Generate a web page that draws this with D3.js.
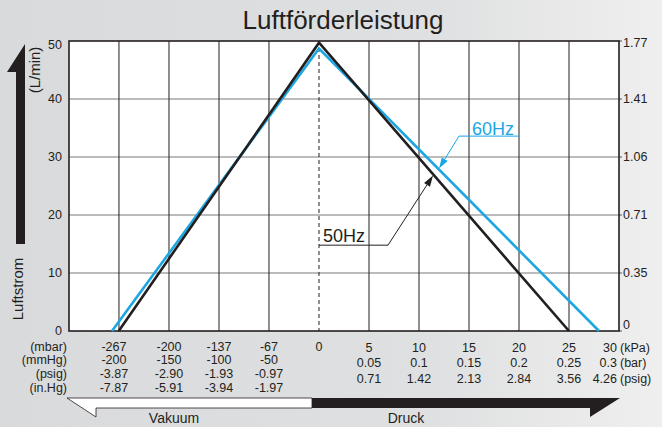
<!DOCTYPE html>
<html>
<head>
  <meta charset="utf-8">
  <title>Luftförderleistung</title>
  <script src="https://d3js.org/d3.v7.min.js"></script>
  <style>
    body { margin: 0; }
    svg text { font-family: "Liberation Sans", Arial, Helvetica, sans-serif; fill: #231f20; }
  </style>
</head>
<body>
  <div id="chart"></div>
  <script>
    // flow curves, x in mbar (negative = vacuum), y in L/min
    const hz50 = [[-267, 0], [0, 49.7], [250, 0]];
    const hz60 = [[-276, 0], [0, 48.7], [280, 0]];

    // vacuum side columns (mbar position + labels for each unit)
    const vacPos = [-266.7, -200, -133.3, -66.7];
    const vacMbar = ["-267", "-200", "-137", "-67"];
    const vacMmHg = ["-200", "-150", "-100", "-50"];
    const vacPsig = ["-3.87", "-2.90", "-1.93", "-0.97"];
    const vacInHg = ["-7.87", "-5.91", "-3.94", "-1.97"];

    // pressure side columns
    const presKPa = [5, 10, 15, 20, 25, 30];
    const presBar = ["0.05", "0.1", "0.15", "0.2", "0.25", "0.3"];
    const presPsig = ["0.71", "1.42", "2.13", "2.84", "3.56", "4.26"];

    // y ticks, left in L/min and right in the second unit
    const yTicks = [0, 10, 20, 30, 40, 50];
    const yRight = ["0", "0.35", "0.71", "1.06", "1.41", "1.77"];

    const W = 662, H = 427;
    const pL = 69, pR = 619, pT = 41, pB = 331;

    const svg = d3.select("#chart").append("svg")
      .attr("width", W).attr("height", H);

    // background
    const grad = svg.append("defs").append("linearGradient")
      .attr("id", "bg").attr("x1", "0%").attr("x2", "100%");
    grad.append("stop").attr("offset", "0%").attr("stop-color", "#d9dadc");
    grad.append("stop").attr("offset", "65%").attr("stop-color", "#dfe0e1");
    grad.append("stop").attr("offset", "100%").attr("stop-color", "#efefef");
    svg.append("rect").attr("width", W).attr("height", H).attr("fill", "url(#bg)");

    // piecewise x: vacuum side 50mmHg per column, pressure side 5 kPa per column
    const x = d3.scaleLinear().domain([-333.3, 0, 300]).range([pL, 319, pR]);
    const y = d3.scaleLinear().domain([0, 50]).range([pB, pT]);

    svg.append("rect")
      .attr("x", pL).attr("y", pT)
      .attr("width", pR - pL).attr("height", pB - pT)
      .attr("fill", "#fff");

    // horizontal grid
    svg.selectAll(".hgrid").data(yTicks.slice(1, 5)).enter().append("line")
      .attr("x1", pL).attr("x2", pR)
      .attr("y1", d => y(d)).attr("y2", d => y(d))
      .attr("stroke", "#7a7a7a").attr("stroke-width", 1.2);

    // vertical grid
    const vGrid = vacPos.concat(presKPa.slice(0, 5).map(d => d * 10));
    svg.selectAll(".vgrid").data(vGrid).enter().append("line")
      .attr("x1", d => x(d)).attr("x2", d => x(d))
      .attr("y1", pT).attr("y2", pB)
      .attr("stroke", "#231f20").attr("stroke-width", 1);

    svg.append("line")
      .attr("x1", x(0)).attr("x2", x(0)).attr("y1", pT).attr("y2", pB)
      .attr("stroke", "#231f20").attr("stroke-width", 1)
      .attr("stroke-dasharray", "4,3");

    // right ticks
    svg.selectAll(".rtick").data(yTicks).enter().append("line")
      .attr("x1", pR).attr("x2", pR + 3)
      .attr("y1", d => y(d)).attr("y2", d => y(d))
      .attr("stroke", "#555").attr("stroke-width", 1);

    // frame
    svg.append("rect")
      .attr("x", pL).attr("y", pT)
      .attr("width", pR - pL).attr("height", pB - pT)
      .attr("fill", "none").attr("stroke", "#231f20").attr("stroke-width", 1.6);

    // curves
    const line = d3.line().x(d => x(d[0])).y(d => y(d[1]));
    svg.append("path").datum(hz60).attr("d", line)
      .attr("fill", "none").attr("stroke", "#1ca6e2").attr("stroke-width", 2.6);
    svg.append("path").datum(hz50).attr("d", line)
      .attr("fill", "none").attr("stroke", "#231f20").attr("stroke-width", 2.6);

    // y labels
    svg.selectAll(".yl").data(yTicks).enter().append("text")
      .attr("x", 62).attr("y", d => y(d) + (d === 50 ? 4 : 0))
      .attr("dy", "0.35em").attr("text-anchor", "end")
      .style("font-size", "12.5px").text(d => d);
    svg.selectAll(".yr").data(yRight).enter().append("text")
      .attr("x", 623).attr("y", (d, i) => y(yTicks[i]) + (i === 5 ? 2 : 0) + (i === 0 ? -6 : 0))
      .attr("dy", "0.35em")
      .style("font-size", "12.5px").text(d => d);

    // axis titles
    svg.append("text").attr("transform", "translate(40,70) rotate(-90)")
      .attr("text-anchor", "middle").style("font-size", "15px").text("(L/min)");
    svg.append("text").attr("transform", "translate(23,289) rotate(-90)")
      .attr("text-anchor", "middle").style("font-size", "15px").text("Luftstrom");

    // big up arrow
    svg.append("path").attr("d", "M25,44 L7,72 L16,72 L16,244 L25,244 Z").attr("fill", "#231f20");

    // title
    svg.append("text").attr("x", 343).attr("y", 29).attr("text-anchor", "middle")
      .style("font-size", "26px").text("Luftförderleistung");

    // vacuum rows
    const rowL = [350.5, 364, 377.5, 391.5];
    [vacMbar, vacMmHg, vacPsig, vacInHg].forEach((row, r) => {
      svg.selectAll(".v" + r).data(row).enter().append("text")
        .attr("x", (d, i) => x(vacPos[i]) - (i === 0 ? 5 : 0))
        .attr("y", rowL[r]).attr("text-anchor", "middle")
        .style("font-size", "12.5px").text(d => d);
    });
    const unitsL = ["(mbar)", "(mmHg)", "(psig)", "(in.Hg)"];
    unitsL.forEach((u, r) => {
      svg.append("text").attr("x", 67).attr("y", rowL[r]).attr("text-anchor", "end")
        .style("font-size", "12.5px").text(u);
    });
    svg.append("text").attr("x", x(0)).attr("y", rowL[0]).attr("text-anchor", "middle")
      .style("font-size", "12.5px").text("0");

    // pressure rows
    const rowR = [351.5, 367, 382.5];
    [presKPa, presBar, presPsig].forEach((row, r) => {
      svg.selectAll(".p" + r).data(row).enter().append("text")
        .attr("x", (d, i) => i === 5 ? 617 : x(presKPa[i] * 10))
        .attr("y", rowR[r]).attr("text-anchor", (d, i) => i === 5 ? "end" : "middle")
        .style("font-size", "12.5px").text(d => d);
    });
    const unitsR = ["(kPa)", "(bar)", "(psig)"];
    unitsR.forEach((u, r) => {
      svg.append("text").attr("x", 620).attr("y", rowR[r])
        .style("font-size", "12.5px").text(u);
    });

    // bottom arrows
    svg.append("path").attr("d", "M67,398 L312,398 L312,408 L96,408 L96,417 Z")
      .attr("fill", "#fff").attr("stroke", "#231f20").attr("stroke-width", 0.8);
    svg.append("path").attr("d", "M312,398 L620,398 L590,417 L590,408 L312,408 Z")
      .attr("fill", "#231f20");
    svg.append("text").attr("x", 174).attr("y", 423).attr("text-anchor", "middle")
      .style("font-size", "14px").text("Vakuum");
    svg.append("text").attr("x", 406).attr("y", 423).attr("text-anchor", "middle")
      .style("font-size", "14px").text("Druck");

    // annotations: label position, underline and leader, arrow tip, in data units
    const notes = [
      { label: "60Hz", color: "#1ca6e2", textX: 153, base: 33.8, lineFrom: 140, lineTo: 200, lineY: 33.6, tip: [120, 28.0] },
      { label: "50Hz", color: "#231f20", textX: 4, base: 15.3, lineFrom: 69, lineTo: 0, lineY: 14.8, tip: [114, 26.8] }
    ];
    notes.forEach(n => {
      svg.append("text").attr("x", x(n.textX)).attr("y", y(n.base))
        .style("font-size", "18px").style("fill", n.color).text(n.label);
      svg.append("line")
        .attr("x1", x(n.lineFrom)).attr("x2", x(n.lineTo))
        .attr("y1", y(n.lineY)).attr("y2", y(n.lineY))
        .attr("stroke", n.color).attr("stroke-width", 1);
      const x0 = x(n.lineFrom), y0 = y(n.lineY), x1 = x(n.tip[0]), y1 = y(n.tip[1]);
      const ang = Math.atan2(y1 - y0, x1 - x0);
      const len = 11, wid = 3.5;
      const bx = x1 - len * Math.cos(ang), by = y1 - len * Math.sin(ang);
      svg.append("line").attr("x1", x0).attr("y1", y0).attr("x2", bx).attr("y2", by)
        .attr("stroke", n.color).attr("stroke-width", 1);
      svg.append("path")
        .attr("d", `M${x1},${y1} L${bx + wid * Math.sin(ang)},${by - wid * Math.cos(ang)} L${bx - wid * Math.sin(ang)},${by + wid * Math.cos(ang)} Z`)
        .attr("fill", n.color);
    });
  </script>
</body>
</html>
